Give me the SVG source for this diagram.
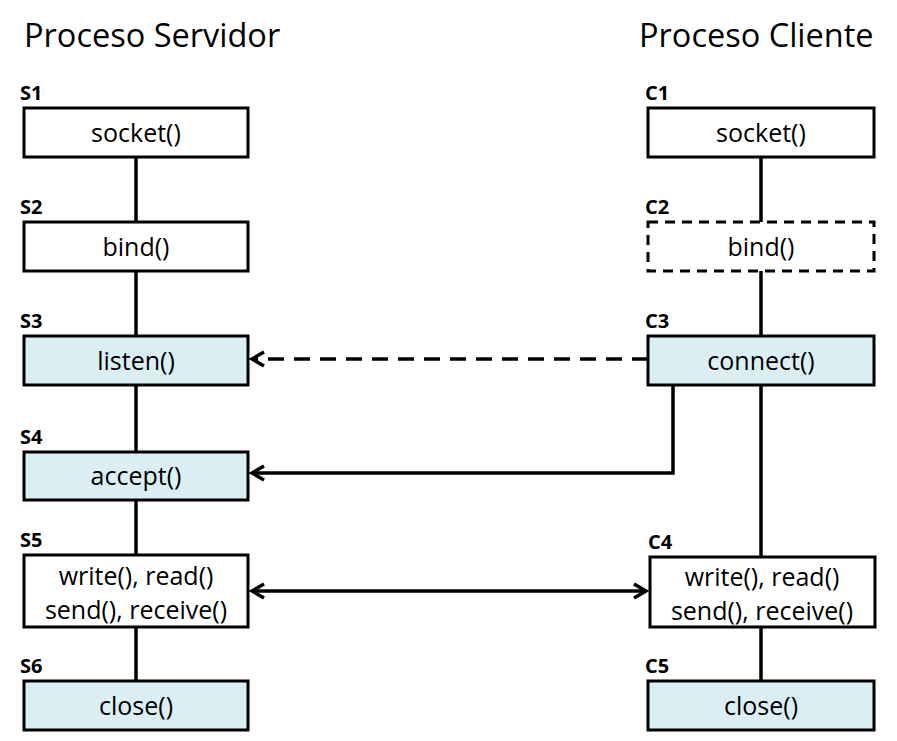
<svg xmlns="http://www.w3.org/2000/svg" width="897" height="741" viewBox="0 0 897 741">
<defs>
<style>
.title{font-family:"Open Sans","Liberation Sans",sans-serif;font-size:32.5px;fill:#000}
.lbl{font-family:"Open Sans","Liberation Sans",sans-serif;font-size:20px;font-weight:bold;fill:#000}
.t{font-family:"Open Sans","Liberation Sans",sans-serif;font-size:25px;fill:#000;text-anchor:middle}
.box{fill:#fff;stroke:#000;stroke-width:3}
.blue{fill:#DAEEF3;stroke:#000;stroke-width:3}
.dash{fill:#fff;stroke:#000;stroke-width:3;stroke-dasharray:10 7}
.ln{fill:none;stroke:#000;stroke-width:3.5}
</style>
<marker id="ah" markerWidth="20" markerHeight="20" refX="15" refY="10" orient="auto-start-reverse" markerUnits="userSpaceOnUse">
<polyline points="3,3 15,10 3,17" fill="none" stroke="#000" stroke-width="3.5"/>
</marker>
</defs>
<rect width="897" height="741" fill="#fff"/>
<text class="title" x="24" y="47">Proceso Servidor</text>
<text class="title" x="639" y="47">Proceso Cliente</text>
<g id="connectors">
<line class="ln" x1="136" y1="157" x2="136" y2="681"/>
<line class="ln" x1="761" y1="157" x2="761" y2="681"/>
<line class="ln" x1="648" y1="359" x2="252" y2="359" stroke-dasharray="16 10" marker-end="url(#ah)"/>
<polyline class="ln" points="673,385 673,473 252,473" marker-end="url(#ah)"/>
<line class="ln" x1="252" y1="591" x2="646" y2="591" marker-start="url(#ah)" marker-end="url(#ah)"/>
</g>
<g id="S1"><text class="lbl" x="20" y="100">S1</text><rect class="box" x="24" y="108" width="224" height="49"/><text class="t" x="136" y="142">socket()</text></g>
<g id="S2"><text class="lbl" x="20" y="214">S2</text><rect class="box" x="24" y="222" width="224" height="49"/><text class="t" x="136" y="256">bind()</text></g>
<g id="S3"><text class="lbl" x="20" y="328">S3</text><rect class="blue" x="24" y="336" width="224" height="49"/><text class="t" x="136" y="370">listen()</text></g>
<g id="S4"><text class="lbl" x="20" y="444">S4</text><rect class="blue" x="24" y="452" width="224" height="48"/><text class="t" x="136" y="485">accept()</text></g>
<g id="S5"><text class="lbl" x="20" y="547">S5</text><rect class="box" x="24" y="555" width="224" height="72"/><text class="t" x="136" y="585">write(), read()</text><text class="t" x="136" y="619">send(), receive()</text></g>
<g id="S6"><text class="lbl" x="20" y="673">S6</text><rect class="blue" x="24" y="681" width="224" height="49"/><text class="t" x="136" y="715">close()</text></g>
<g id="C1"><text class="lbl" x="645" y="100">C1</text><rect class="box" x="648" y="108" width="226" height="49"/><text class="t" x="761" y="142">socket()</text></g>
<g id="C2"><text class="lbl" x="645" y="214">C2</text><rect class="dash" x="648" y="222" width="226" height="49"/><text class="t" x="761" y="256">bind()</text></g>
<g id="C3"><text class="lbl" x="645" y="328">C3</text><rect class="blue" x="648" y="336" width="226" height="49"/><text class="t" x="761" y="370">connect()</text></g>
<g id="C4"><text class="lbl" x="648" y="549">C4</text><rect class="box" x="650" y="557" width="225" height="70"/><text class="t" x="762" y="586">write(), read()</text><text class="t" x="762" y="620">send(), receive()</text></g>
<g id="C5"><text class="lbl" x="645" y="673">C5</text><rect class="blue" x="648" y="681" width="226" height="49"/><text class="t" x="761" y="715">close()</text></g>
</svg>
